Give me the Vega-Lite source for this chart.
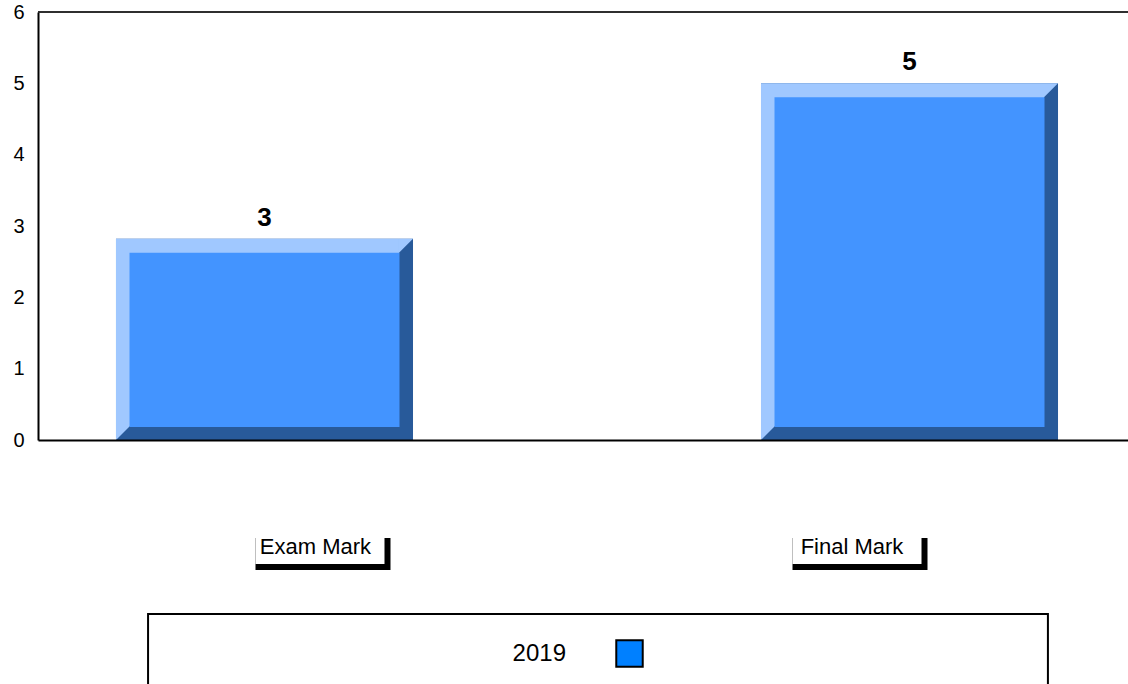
{
  "$schema": "https://vega.github.io/schema/vega-lite/v6.json",
  "width": 1090,
  "height": 428,
  "autosize": {"type": "none"},
  "padding": {"left": 38, "top": 12, "right": 0, "bottom": 244},
  "background": "white",
  "config": {"view": {"stroke": null}, "font": "Liberation Sans"},
  "data": {"values": [
    {"category": "Exam Mark", "mark": 2.82, "year": "2019"},
    {"category": "Final Mark", "mark": 5, "year": "2019"}
  ]},
  "layer": [
    {
      "mark": {"type": "bar", "color": "#285A9A"},
      "encoding": {
        "x": {"field": "category", "type": "nominal", "sort": null,
          "scale": {"range": [0, 1098], "paddingInner": 0.5395, "paddingOuter": 0.1209},
          "axis": {"title": null, "domain": true, "domainColor": "black", "domainWidth": 2, "ticks": false, "tickSize": 0,
            "labelPadding": 96, "labelFontSize": 22, "labelColor": "black", "labelAngle": 0,
            "labelOffset": {"condition": {"test": "datum.value == 'Exam Mark'", "value": 51}, "value": -57.5},
            "zindex": 1}},
        "y": {"field": "mark", "type": "quantitative",
          "scale": {"domain": [0, 6], "nice": false},
          "axis": {"title": null, "values": [0, 1, 2, 3, 4, 5, 6], "format": "d", "domainColor": "black", "domainWidth": 2,
            "ticks": false, "tickSize": 0, "labelPadding": 14, "labelFontSize": 20, "labelColor": "black", "grid": false}}
      }
    },
    {
      "mark": {"type": "bar", "color": "#A0C8FF", "width": 283, "xOffset": -7, "y2Offset": -14},
      "encoding": {
        "x": {"field": "category", "type": "nominal", "sort": null},
        "y": {"field": "mark", "type": "quantitative"},
        "y2": {"datum": 0}
      }
    },
    {
      "mark": {"type": "point", "shape": "M-1,-1L1,-1L-1,1Z", "filled": true, "size": 196, "color": "#A0C8FF", "opacity": 1, "strokeWidth": 0, "xOffset": -7, "yOffset": 7},
      "encoding": {
        "x": {"field": "category", "type": "nominal", "sort": null, "bandPosition": 1},
        "y": {"field": "mark", "type": "quantitative"}
      }
    },
    {
      "mark": {"type": "point", "shape": "M-1,-1L1,-1L-1,1Z", "filled": true, "size": 196, "color": "#A0C8FF", "opacity": 1, "strokeWidth": 0, "xOffset": 7, "yOffset": -7},
      "encoding": {
        "x": {"field": "category", "type": "nominal", "sort": null, "bandPosition": 0},
        "y": {"datum": 0}
      }
    },
    {
      "mark": {"type": "bar", "width": 260, "yOffset": 20, "y2Offset": -20},
      "encoding": {
        "x": {"field": "category", "type": "nominal", "sort": null},
        "y": {"field": "mark", "type": "quantitative"},
        "y2": {"datum": 0},
        "color": {"field": "year", "type": "nominal",
          "scale": {"range": ["#0080FF"]},
          "legend": {"title": null, "orient": "none", "legendX": 577, "legendY": 627,
            "labelFontSize": 24, "labelColor": "black", "labelAlign": "right", "labelOffset": -78,
            "symbolType": "square", "symbolSize": 700, "symbolStrokeColor": "black", "symbolStrokeWidth": 2, "symbolOpacity": 1}}
      }
    },
    {
      "mark": {"type": "bar", "color": "#4394FF", "width": 270, "yOffset": 14, "y2Offset": -13},
      "encoding": {
        "x": {"field": "category", "type": "nominal", "sort": null},
        "y": {"field": "mark", "type": "quantitative"},
        "y2": {"datum": 0}
      }
    },
    {
      "mark": {"type": "text", "fontSize": 26, "fontWeight": "bold", "dy": -13, "baseline": "alphabetic", "color": "black"},
      "encoding": {
        "x": {"field": "category", "type": "nominal", "sort": null},
        "y": {"field": "mark", "type": "quantitative"},
        "text": {"field": "mark", "type": "quantitative", "format": ".0f"}
      }
    },
    {
      "mark": {"type": "bar", "color": "black", "width": 135,
        "xOffset": {"expr": "datum.category == 'Exam Mark' ? 58.5 : -49.5"}},
      "encoding": {
        "x": {"field": "category", "type": "nominal", "sort": null},
        "y": {"datum": -1.374},
        "y2": {"datum": -1.823}
      }
    },
    {
      "mark": {"type": "bar", "color": "white", "width": 129, "y2Offset": -6,
        "xOffset": {"expr": "datum.category == 'Exam Mark' ? 55.5 : -52.5"}},
      "encoding": {
        "x": {"field": "category", "type": "nominal", "sort": null},
        "y": {"datum": -1.374},
        "y2": {"datum": -1.823}
      }
    },
    {
      "data": {"values": [{}]},
      "mark": {"type": "rect", "filled": false, "stroke": "black", "strokeWidth": 2},
      "encoding": {
        "x": {"datum": "Exam Mark", "bandPosition": 0.108},
        "x2": {"datum": "Final Mark", "bandPosition": 0.966},
        "y": {"datum": -2.44},
        "y2": {"datum": -3.6}
      }
    },
    {
      "mark": {"type": "rule", "color": "#222", "strokeWidth": 1.5},
      "encoding": {"y": {"datum": 6}}
    }
  ]
}
